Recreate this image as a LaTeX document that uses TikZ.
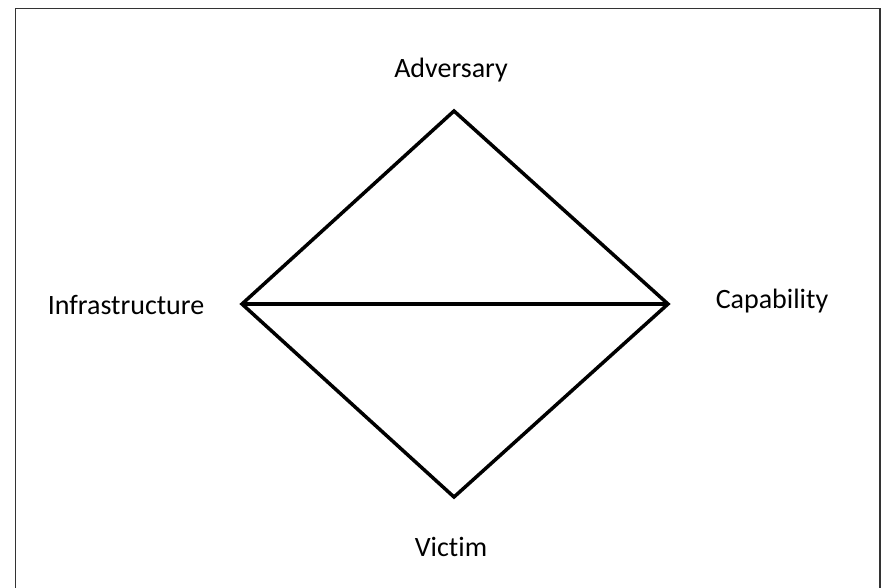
\documentclass[tikz,border=0pt]{standalone}
\usepackage{fontspec}
\setmainfont[Ligatures={NoCommon}]{Carlito}
\begin{document}
\begin{tikzpicture}[x=1pt,y=-1pt,
  lbl/.style={font=\fontsize{28}{33}\selectfont, text=black, inner sep=0pt},
  edge/.style={line width=3.5pt, line join=miter, black},
  frame/.style={line width=1.2pt, draw=black!80}]
\useasboundingbox (0,0) rectangle (883,587);
\draw[frame] (15.5,590) -- (15.5,8.5) -- (880,8.5) -- (880,590);
\coordinate (A) at (454,111);
\coordinate (I) at (242,304);
\coordinate (C) at (668,304);
\coordinate (V) at (454,497);
\draw[edge] (A) -- (C) -- (V) -- (I) -- cycle;
\draw[edge] (I) -- (C);
\node[lbl] (tA) at (451,70) {Adversary};
\node[lbl] (tI) at (126,305) {Infrastructure};
\node[lbl] (tC) at (772,301) {Capability};
\node[lbl] (tV) at (451,547) {Victim};
\end{tikzpicture}
\end{document}
